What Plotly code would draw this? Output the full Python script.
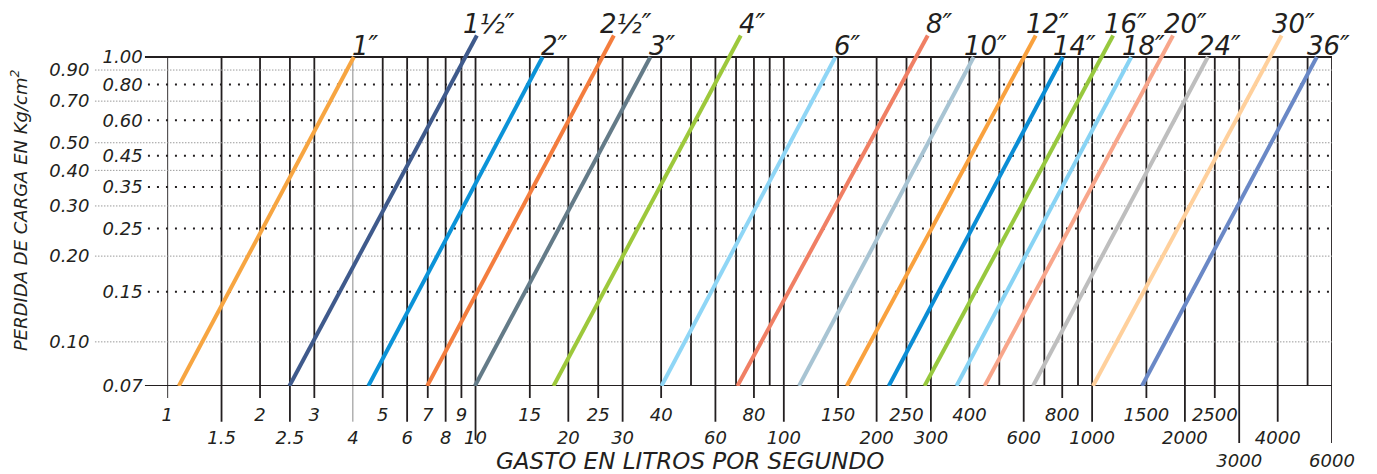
import math
import plotly.graph_objects as go

# ---------------- data ----------------
pipes = ["1″", "1½″", "2″", "2½″", "3″", "4″", "6″", "8″", "10″", "12″",
         "14″", "16″", "18″", "20″", "24″", "30″", "36″"]
colors = ["#F7A541", "#3F5A8C", "#0B93D8", "#F47D3E", "#647B88", "#9DC83B",
          "#8FD6F6", "#F07F64", "#A8C4D3", "#F9A13E", "#0A8DD5", "#97C83E",
          "#88D3F4", "#F8A68B", "#BEBEBE", "#FFD09C", "#6A88C6"]
# flow (l/s) where each pipe line meets 0.07 kg/cm2
q_low = [1.09, 2.49, 4.49, 6.97, 9.95, 17.9, 40.1, 70.7, 112, 160,
         219, 286, 363, 448, 643, 1006, 1451]
# flow and head loss at the upper end of each pipe line
q_top = [4.03, 10.1, 16.5, 28.1, 36.9, 72.5, 147, 293, 413, 656,
         804, 1170, 1340, 1830, 2374, 4117, 5356]
h_top = [1.0, 1.19, 1.0, 1.19, 1.0, 1.19, 1.0, 1.19, 1.0, 1.19,
         1.0, 1.19, 1.0, 1.19, 1.0, 1.19, 1.0]

grid_x = [1, 1.5, 2, 2.5, 3, 4, 5, 6, 7, 8, 9, 10, 15, 20, 25, 30, 40, 50, 60,
          70, 80, 90, 100, 150, 200, 250, 300, 400, 500, 600, 700, 800, 900,
          1000, 1500, 2000, 2500, 3000, 4000, 5000, 6000]
x_row1 = [1, 2, 3, 5, 7, 9, 15, 25, 40, 80, 150, 250, 400, 800, 1500, 2500]
x_row2 = [1.5, 2.5, 4, 6, 8, 10, 20, 30, 60, 100, 200, 300, 600, 1000, 2000, 4000]
x_row3 = [3000, 6000]

y_right = [1.0, 0.8, 0.6, 0.45, 0.35, 0.25, 0.15, 0.07]
y_right_text = ["1.00", "0.80", "0.60", "0.45", "0.35", "0.25", "0.15", "0.07"]
y_left = [0.9, 0.7, 0.5, 0.4, 0.3, 0.2, 0.1]
y_left_text = ["0.90", "0.70", "0.50", "0.40", "0.30", "0.20", "0.10"]

x_title = "GASTO EN LITROS POR SEGUNDO"
y_title = "PERDIDA DE CARGA EN Kg/cm<sup>2</sup>"

# ---------------- layout geometry (page pixels) ----------------
OFF = 8                            # page body margin
W, H = 1377 - OFF, 474 - OFF       # figure size
PX_L, PX_R = 167.3, 1332.5         # page x of first / last grid line
PY_TOP, PY_BOT, PY_PLOT_TOP = 57, 386, 29
FONT = "DejaVu Sans"
INK = "#231f20"
PAPER_W = PX_R - OFF

def fx(px):
    return (px - OFF) / PAPER_W

def fy(py):
    return 1 - (py - OFF) / H

y_lo = math.log10(0.07)
y_hi = 0 + (PY_TOP - PY_PLOT_TOP) / (PY_BOT - PY_TOP) * (0 - y_lo)

fig = go.Figure()

for name, c, ql, qt, ht in zip(pipes, colors, q_low, q_top, h_top):
    fig.add_trace(go.Scatter(x=[ql, qt], y=[0.07, ht], mode="lines",
                             line=dict(color=c, width=4), name=name,
                             showlegend=False, hoverinfo="skip"))
    fig.add_annotation(x=math.log10(qt), y=math.log10(ht), xref="x", yref="y",
                       text=name, showarrow=False, xanchor="center", yanchor="bottom",
                       xshift=12, yshift=-5, borderpad=0,
                       font=dict(family=FONT, size=26, color=INK, style="italic"))

# invisible trace for the second (left column) y axis
fig.add_trace(go.Scatter(x=[1], y=[0.07], yaxis="y2", mode="markers",
                         marker=dict(opacity=0), showlegend=False, hoverinfo="skip"))

shapes = []
y1_frame = fy(PY_TOP)
for v in grid_x:
    if v == 10:
        y0 = fy(440)
    elif v in x_row3:
        y0 = fy(443)
    elif v in x_row2:
        y0 = fy(421.7)
    elif v in x_row1:
        y0 = fy(398)
    else:
        y0 = fy(PY_BOT)
    thin = v in (4,)
    shapes.append(dict(type="line", xref="x", yref="paper", x0=v, x1=v, y0=y0, y1=y1_frame,
                       line=dict(color="#8a8a8a" if thin else INK, width=1 if thin else 1.8),
                       layer="below"))
# horizontal frame lines
for v in (1.0, 0.07):
    shapes.append(dict(type="line", xref="paper", yref="y", x0=fx(145), x1=1, y0=v, y1=v,
                       line=dict(color=INK, width=2), layer="below"))
for v in y_right[1:-1]:
    shapes.append(dict(type="line", xref="paper", yref="y", x0=fx(148), x1=1, y0=v, y1=v,
                       line=dict(color=INK, width=2, dash="2px,7px"), layer="below"))
for v in y_left:
    shapes.append(dict(type="line", xref="paper", yref="y", x0=fx(95), x1=1, y0=v, y1=v,
                       line=dict(color="#9a9a9a", width=1, dash="1.5px,1.5px"), layer="below"))

tick_font = dict(family=FONT, size=18, color=INK, style="italic")
xt_vals = x_row1 + x_row2 + x_row3
xt_text = ([str(v) for v in x_row1] + ["<br>" + str(v) for v in x_row2]
           + ["<br><br>" + str(v) for v in x_row3])

fig.update_layout(
    template="none",
    width=W, height=H,
    margin=dict(l=0, r=W - PAPER_W, t=0, b=0, autoexpand=False),
    paper_bgcolor="white", plot_bgcolor="white",
    shapes=shapes,
    xaxis=dict(type="log", range=[0, math.log10(6000)], domain=[fx(PX_L), 1],
               automargin=False, tickangle=0,
               showgrid=False, zeroline=False, showline=False,
               tickmode="array", tickvals=xt_vals, ticktext=xt_text,
               ticks="outside", ticklen=12, tickcolor="rgba(0,0,0,0)",
               tickfont=tick_font),
    yaxis=dict(type="log", range=[y_lo, y_hi], domain=[fy(PY_BOT), fy(PY_PLOT_TOP)],
               automargin=False,
               showgrid=False, zeroline=False, showline=False,
               tickmode="array", tickvals=y_right, ticktext=y_right_text,
               ticks="outside", ticklen=20, tickcolor="rgba(0,0,0,0)",
               tickfont=tick_font),
    yaxis2=dict(type="log", range=[y_lo, y_hi], overlaying="y", anchor="free",
                position=fx(95), side="left", automargin=False,
                showgrid=False, zeroline=False, showline=False,
                tickmode="array", tickvals=y_left, ticktext=y_left_text,
                ticks="outside", ticklen=2, tickcolor="rgba(0,0,0,0)",
                tickfont=tick_font),
    annotations=list(fig.layout.annotations) + [
        dict(text=x_title, xref="paper", yref="paper", x=fx(690), y=fy(461),
             xanchor="center", yanchor="middle", showarrow=False,
             font=dict(family=FONT, size=23, color=INK, style="italic")),
        dict(text=y_title, xref="paper", yref="paper", x=fx(19), y=fy(210),
             xanchor="center", yanchor="middle", showarrow=False, textangle=-90,
             borderpad=0,
             font=dict(family=FONT, size=18, color=INK, style="italic")),
    ],
)

fig.write_html("out.html")
